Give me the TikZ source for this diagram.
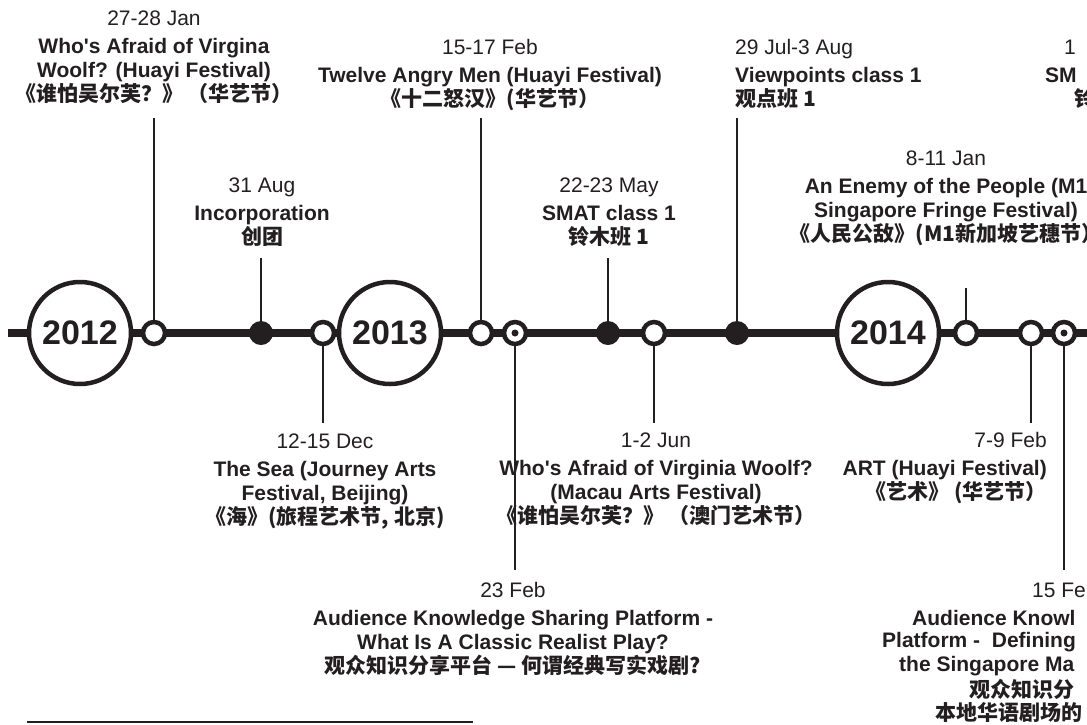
\documentclass[tikz,border=0pt]{standalone}
\usepackage{fontspec}
\setmainfont{Liberation Sans}
\newfontfamily\cjk{Noto Sans CJK SC}
\definecolor{ink}{HTML}{231F20}
\newcommand{\zh}[1]{{\cjk\bfseries #1}}

\begin{document}
\begin{tikzpicture}[x=1pt, y=-1pt, year/.style={circle, draw=ink, line width=4.5pt, fill=white, minimum size=102pt, inner sep=0pt, text=ink, font=\fontsize{34}{34}\selectfont\bfseries}, hollow/.style={circle, draw=ink, line width=4.5pt, fill=white, minimum size=22pt, inner sep=0pt}, full/.style={circle, fill=ink, minimum size=24pt, inner sep=0pt}, ring/.style={hollow, path picture={\fill[ink] (path picture bounding box.center) circle (3.5pt);}}, stem/.style={draw=ink, line width=2.5pt}, lbl/.style={inner sep=0pt, text=ink, align=center, font=\fontsize{21}{24}\selectfont}]
\useasboundingbox (0,0) rectangle (1087,724); \clip (0,0) rectangle (1087,724);
% time axis
\coordinate (start) at (8,333); \coordinate (end) at (1100,333); \draw[ink, line width=8.5pt] (start) -- (end);
\node[year] (y2012) at (80,333) {2012}; \node[year] (y2013) at (390,333) {2013}; \node[year] (y2014) at (888,333) {2014};
\node[hollow] (a) at (154,333) {}; \node[full] (b) at (261,333) {}; \node[hollow] (c) at (323,333) {}; \node[hollow] (d) at (481,333) {}; \node[ring] (e) at (515,333) {}; \node[full] (f) at (608,333) {};
\node[hollow] (g) at (654,333) {}; \node[full] (h) at (737,333) {}; \node[hollow] (i) at (966,333) {}; \node[hollow] (j) at (1031,333) {}; \node[ring] (k) at (1064,333) {};
% stems
\coordinate (sa) at (154,118); \coordinate (sb) at (261,258); \coordinate (sc) at (323,423); \coordinate (sd) at (481,118); \coordinate (se) at (515,570); \coordinate (sf) at (608,258);
\coordinate (sg) at (654,423); \coordinate (sh) at (737,118); \coordinate (si) at (966,288); \coordinate (sj) at (1031,423); \coordinate (sk) at (1064,570);
\draw[stem] (a) -- (sa); \draw[stem] (b) -- (sb); \draw[stem] (c) -- (sc); \draw[stem] (d) -- (sd); \draw[stem] (e) -- (se); \draw[stem] (f) -- (sf);
\draw[stem] (g) -- (sg); \draw[stem] (h) -- (sh); \draw[stem] (i) -- (si); \draw[stem] (j) -- (sj); \draw[stem] (k) -- (sk);
% events above the axis
\node[lbl, anchor=north] (la) at (154,10.5) {27-28 Jan\\[4pt]\textbf{Who\textquotesingle s Afraid of Virgina}\\\textbf{Woolf? (Huayi Festival)}\\\zh{《谁怕吴尔芙？》 （华艺节）}};
\node[lbl, anchor=north] (lb) at (262,177.5) {31 Aug\\[4pt]\textbf{Incorporation}\\\zh{创团}};
\node[lbl, anchor=north] (ld) at (490,39.5) {15-17 Feb\\[4pt]\textbf{Twelve Angry Men (Huayi Festival)}\\\zh{《十二怒汉》(华艺节）}};
\node[lbl, anchor=north] (lf) at (609,177.5) {22-23 May\\[4pt]\textbf{SMAT class 1}\\\zh{铃木班 1}};
\node[lbl, anchor=north west, align=left] (lh) at (735,39.5) {29 Jul-3 Aug\\[4pt]\textbf{Viewpoints class 1}\\\zh{观点班 1}};
\node[lbl, anchor=north] (li) at (946,150.5) {8-11 Jan\\[4pt]\textbf{An Enemy of the People (M1}\\\textbf{Singapore Fringe Festival)}\\\zh{《人民公敌》(M1新加坡艺穗节）}};
\node[lbl, anchor=west] (lm1) at (1064,47) {1}; \node[lbl, anchor=west] (lm2) at (1045,75) {\textbf{SM}}; \node[lbl, anchor=west] (lm3) at (1074,98) {\zh{铃}};
% events below the axis
\node[lbl, anchor=north] (lc) at (325,433.5) {12-15 Dec\\[4pt]\textbf{The Sea (Journey Arts}\\\textbf{Festival, Beijing)}\\\zh{《海》(旅程艺术节, 北京)}};
\node[lbl, anchor=north] (lg) at (656,432.5) {1-2 Jun\\[4pt]\textbf{Who\textquotesingle s Afraid of Virginia Woolf?}\\\textbf{(Macau Arts Festival)}\\\zh{《谁怕吴尔芙？》 （澳门艺术节）}};
\node[lbl, anchor=north east, align=right] (lj) at (1047,432.5) {7-9 Feb\\[4pt]\textbf{ART (Huayi Festival)}\\\zh{《艺术》 (华艺节）}};
\node[lbl, anchor=north] (le) at (513,582.5) {23 Feb\\[4pt]\textbf{Audience Knowledge Sharing Platform -}\\\textbf{What Is A Classic Realist Play?}\\\zh{观众知识分享平台 — 何谓经典写实戏剧?}};
\node[lbl, anchor=west] (lk1) at (1032,590) {15 Fe}; \node[lbl, anchor=west] (lk2) at (912,618) {\textbf{Audience Knowl}}; \node[lbl, anchor=west] (lk3) at (882,642) {\textbf{Platform -~ Defining}};
\node[lbl, anchor=west] (lk4) at (899,666) {\textbf{the Singapore Ma}}; \node[lbl, anchor=west] (lk5) at (969,689) {\zh{观众知识分}}; \node[lbl, anchor=west] (lk6) at (935,712) {\zh{本地华语剧场的}};
% footnote rule
\coordinate (r1) at (27,722); \coordinate (r2) at (473,722); \draw[ink, line width=2pt] (r1) -- (r2);
\end{tikzpicture}
\end{document}
